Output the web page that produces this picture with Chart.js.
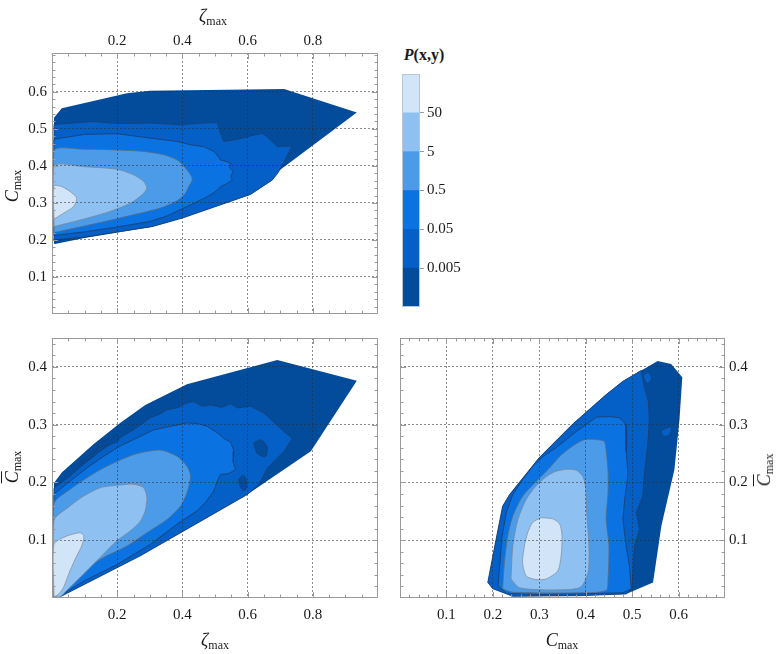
<!DOCTYPE html>
<html>
<head>
<meta charset="utf-8">
<script src="https://cdn.jsdelivr.net/npm/chart.js@4.4.1/dist/chart.umd.min.js"></script>
<style>
  body { margin: 0; background: #fff; }
  #wrap { position: relative; width: 778px; height: 654px; overflow: hidden; font-family: 'Liberation Serif', 'Times New Roman', serif; color: #1a1a1a; }
  canvas { position: absolute; }
  .lab { position: absolute; transform: translate(-50%, -50%); white-space: nowrap; font-size: 18px; line-height: 1; }
  .rot { transform: translate(-50%, -50%) rotate(-90deg); }
  .lab sub { font-size: 12px; vertical-align: -3px; }
  .it { font-style: italic; }
  .ov { text-decoration: overline; }
</style>
</head>
<body>
<div id="wrap">
  <canvas id="tl" width="390" height="320" style="left:0px;top:0px"></canvas>
  <canvas id="bl" width="390" height="334" style="left:0px;top:320px"></canvas>
  <canvas id="br" width="388" height="334" style="left:390px;top:320px"></canvas>
  <canvas id="cb" width="88" height="233" style="left:402px;top:74px"></canvas>

  <div class="lab" style="left:213px;top:17px"><span class="it">ζ</span><sub>max</sub></div>
  <div class="lab rot" style="left:13px;top:186px"><span class="it">C</span><sub>max</sub></div>
  <div class="lab rot" style="left:13px;top:467px"><span class="it ov">C</span><sub>max</sub></div>
  <div class="lab" style="left:215px;top:641px"><span class="it">ζ</span><sub>max</sub></div>
  <div class="lab" style="left:562px;top:641px"><span class="it">C</span><sub>max</sub></div>
  <div class="lab rot" style="left:765px;top:470px"><span class="it ov">C</span><sub>max</sub></div>
  <div class="lab" style="left:424px;top:55px;font-size:16px;font-weight:bold"><span class="it">P</span>(x,y)</div>
</div>
<script>
// colour levels, darkest (data hull) to lightest
const levelColors = ['#034c9c', '#045fc6', '#0a72e1', '#4b9be9', '#8fc0f2', '#d2e5f8'];
const lineColors = ['#034c9c', '#1b3d70', '#1d3c6a', '#5b6c82', '#76869a', '#8793a3'];
const colorbarLabels = ['0.005', '0.05', '0.5', '5', '50'];

// tick values
const tlXTicks = [0.2, 0.4, 0.6, 0.8];
const tlYTicks = [0.1, 0.2, 0.3, 0.4, 0.5, 0.6];
const blXTicks = [0.2, 0.4, 0.6, 0.8];
const blYTicks = [0.1, 0.2, 0.3, 0.4];
const brXTicks = [0.1, 0.2, 0.3, 0.4, 0.5, 0.6];
const brYTicks = [0.1, 0.2, 0.3, 0.4];

// top-left: zeta_max vs C_max, contour polygons [x, y]
const tlHull = [[0.006,0.19],[0.006,0.53],[0.03,0.556],[0.23,0.596],[0.30,0.603],[0.712,0.608],[0.935,0.544],[0.69,0.383],[0.676,0.362],[0.609,0.323],[0.40,0.259],[0.307,0.236],[0.1,0.205],[0.009,0.189]];
const tlB = [[0.006,0.2],[0.006,0.512],[0.13,0.52],[0.2,0.514],[0.3,0.516],[0.394,0.511],[0.45,0.515],[0.507,0.517],[0.517,0.488],[0.527,0.466],[0.568,0.472],[0.609,0.481],[0.645,0.488],[0.66,0.479],[0.691,0.452],[0.737,0.454],[0.694,0.382],[0.676,0.362],[0.609,0.323],[0.40,0.259],[0.307,0.236],[0.1,0.208]];
const tlC = [[0.006,0.212],[0.006,0.472],[0.1,0.485],[0.2,0.487],[0.302,0.475],[0.384,0.466],[0.425,0.457],[0.466,0.452],[0.497,0.439],[0.51,0.425],[0.517,0.416],[0.535,0.412],[0.548,0.407],[0.545,0.395],[0.556,0.385],[0.548,0.372],[0.553,0.362],[0.535,0.352],[0.517,0.344],[0.5,0.33],[0.476,0.317],[0.435,0.299],[0.353,0.265],[0.3,0.25],[0.2,0.235],[0.1,0.222]];
const tlD = [[0.006,0.22],[0.006,0.441],[0.096,0.445],[0.199,0.443],[0.281,0.439],[0.343,0.43],[0.384,0.416],[0.404,0.40],[0.425,0.376],[0.43,0.362],[0.419,0.344],[0.409,0.326],[0.384,0.306],[0.332,0.286],[0.25,0.268],[0.148,0.247]];
const tlE = [[0.006,0.236],[0.006,0.40],[0.096,0.398],[0.199,0.391],[0.25,0.376],[0.281,0.358],[0.291,0.34],[0.276,0.322],[0.24,0.299],[0.178,0.277],[0.096,0.256]];
const tlF = [[0.006,0.256],[0.006,0.346],[0.03,0.344],[0.055,0.331],[0.076,0.313],[0.066,0.29],[0.035,0.272]];
const tlIslands = [];

// bottom-left: zeta_max vs Cbar_max
const blHull = [[0.006,0.002],[0.006,0.199],[0.03,0.217],[0.127,0.266],[0.209,0.303],[0.286,0.334],[0.414,0.37],[0.691,0.412],[0.935,0.376],[0.794,0.254],[0.599,0.179],[0.404,0.116],[0.271,0.073],[0.025,0.002]];
const blB = [[0.006,0.19],[0.055,0.211],[0.096,0.231],[0.148,0.254],[0.199,0.274],[0.25,0.291],[0.302,0.312],[0.33,0.318],[0.353,0.326],[0.39,0.33],[0.41,0.337],[0.435,0.34],[0.46,0.332],[0.486,0.334],[0.52,0.33],[0.548,0.336],[0.57,0.329],[0.609,0.332],[0.65,0.32],[0.712,0.288],[0.737,0.276],[0.712,0.254],[0.661,0.225],[0.635,0.197],[0.599,0.179],[0.404,0.116],[0.271,0.073],[0.025,0.002],[0.006,0.002]];
const blC = [[0.006,0.002],[0.006,0.18],[0.055,0.202],[0.107,0.225],[0.158,0.245],[0.209,0.263],[0.261,0.277],[0.312,0.291],[0.363,0.297],[0.414,0.303],[0.445,0.302],[0.476,0.297],[0.507,0.286],[0.53,0.275],[0.548,0.27],[0.558,0.254],[0.556,0.235],[0.563,0.222],[0.54,0.215],[0.517,0.214],[0.505,0.2],[0.496,0.185],[0.47,0.165],[0.445,0.151],[0.384,0.128],[0.302,0.093],[0.2,0.058],[0.1,0.03],[0.03,0.006]];
const blD = [[0.006,0.002],[0.006,0.163],[0.055,0.188],[0.148,0.222],[0.25,0.248],[0.332,0.256],[0.384,0.245],[0.414,0.228],[0.425,0.211],[0.414,0.182],[0.394,0.159],[0.353,0.136],[0.291,0.113],[0.23,0.09],[0.158,0.07],[0.086,0.044],[0.035,0.016],[0.014,0.004]];
const blE = [[0.006,0.002],[0.006,0.134],[0.055,0.159],[0.096,0.176],[0.148,0.191],[0.199,0.195],[0.25,0.197],[0.281,0.191],[0.291,0.174],[0.286,0.151],[0.271,0.133],[0.24,0.116],[0.199,0.099],[0.158,0.076],[0.117,0.053],[0.076,0.03],[0.045,0.013],[0.025,0.002]];
const blF = [[0.006,0.002],[0.006,0.093],[0.045,0.107],[0.086,0.113],[0.098,0.107],[0.091,0.09],[0.076,0.073],[0.055,0.047],[0.035,0.018],[0.019,0.006]];
// small darkest patches inside the 0.005 band
const blIslands = [
  [[0.081,0.231],[0.127,0.254],[0.143,0.261],[0.122,0.245],[0.091,0.232]],
  [[0.138,0.266],[0.199,0.28],[0.204,0.272],[0.148,0.261]],
  [[0.572,0.205],[0.588,0.212],[0.598,0.2],[0.592,0.186],[0.58,0.19]],
  [[0.618,0.268],[0.64,0.274],[0.66,0.262],[0.655,0.245],[0.63,0.25]]
];

// bottom-right: C_max vs Cbar_max
const brHull = [[0.2,0.016],[0.243,0.003],[0.387,0.004],[0.487,0.007],[0.545,0.027],[0.563,0.125],[0.591,0.222],[0.602,0.309],[0.608,0.382],[0.584,0.405],[0.555,0.41],[0.48,0.375],[0.444,0.352],[0.372,0.301],[0.30,0.243],[0.236,0.179],[0.221,0.159],[0.207,0.102],[0.189,0.027]];
const brB = [[0.2,0.016],[0.243,0.003],[0.387,0.004],[0.487,0.007],[0.50,0.016],[0.502,0.056],[0.505,0.09],[0.516,0.119],[0.509,0.148],[0.523,0.176],[0.525,0.205],[0.53,0.24],[0.534,0.27],[0.537,0.306],[0.535,0.34],[0.525,0.37],[0.52,0.394],[0.48,0.375],[0.444,0.352],[0.372,0.301],[0.30,0.243],[0.236,0.179],[0.221,0.159],[0.207,0.102],[0.189,0.027]];
const brC = [[0.211,0.021],[0.216,0.067],[0.22,0.107],[0.229,0.148],[0.243,0.179],[0.264,0.205],[0.286,0.228],[0.308,0.245],[0.336,0.26],[0.358,0.274],[0.379,0.288],[0.401,0.30],[0.423,0.313],[0.451,0.314],[0.473,0.312],[0.487,0.30],[0.487,0.254],[0.491,0.214],[0.484,0.171],[0.48,0.136],[0.487,0.09],[0.494,0.056],[0.498,0.016],[0.48,0.009],[0.3,0.006],[0.23,0.008]];
const brD = [[0.221,0.016],[0.225,0.062],[0.232,0.107],[0.243,0.142],[0.264,0.176],[0.29,0.199],[0.322,0.225],[0.344,0.245],[0.372,0.263],[0.397,0.274],[0.423,0.274],[0.44,0.271],[0.444,0.254],[0.448,0.219],[0.448,0.182],[0.444,0.136],[0.45,0.09],[0.448,0.033],[0.444,0.013],[0.387,0.009],[0.243,0.01]];
const brE = [[0.239,0.033],[0.243,0.09],[0.254,0.136],[0.272,0.171],[0.293,0.194],[0.315,0.21],[0.335,0.219],[0.36,0.223],[0.38,0.221],[0.394,0.21],[0.4,0.19],[0.402,0.148],[0.407,0.09],[0.405,0.044],[0.387,0.018],[0.315,0.014],[0.257,0.018]];
const brF = [[0.304,0.139],[0.329,0.137],[0.344,0.128],[0.349,0.107],[0.347,0.073],[0.34,0.047],[0.315,0.033],[0.293,0.032],[0.272,0.038],[0.264,0.062],[0.268,0.09],[0.275,0.113],[0.286,0.131]];
// patches of the 0.005 band inside the darkest region
const brIslands = [
  [[0.523,0.385],[0.535,0.39],[0.542,0.38],[0.532,0.372]],
  [[0.563,0.29],[0.584,0.296],[0.58,0.282],[0.566,0.28]]
];

const tickFont = { family: "'Liberation Serif', serif", size: 15 };
const tickColor = '#1a1a1a';
const gridColor = 'rgba(45,45,45,0.55)';

// frame + inward Mathematica style ticks on all four sides
const framePlugin = {
  id: 'frame',
  afterDraw(chart, args, o) {
    if (!o || !o.xStep) return;
    const { ctx, chartArea: a, scales } = chart;
    const xs = scales.x, ys = scales.y;
    ctx.save();
    ctx.strokeStyle = '#9a9a9a';
    ctx.lineWidth = 1;
    ctx.strokeRect(a.left + 0.5, a.top + 0.5, a.width - 1, a.height - 1);
    ctx.beginPath();
    for (let i = 1; i * o.xStep < xs.max - 1e-9; i++) {
      const v = i * o.xStep;
      const len = o.xMajor.some(m => Math.abs(m - v) < 1e-6) ? 6 : 3.5;
      const px = Math.round(xs.getPixelForValue(v)) + 0.5;
      ctx.moveTo(px, a.top); ctx.lineTo(px, a.top + len);
      ctx.moveTo(px, a.bottom); ctx.lineTo(px, a.bottom - len);
    }
    for (let i = 1; i * o.yStep < ys.max - 1e-9; i++) {
      const v = i * o.yStep;
      const len = o.yMajor.some(m => Math.abs(m - v) < 1e-6) ? 6 : 3.5;
      const py = Math.round(ys.getPixelForValue(v)) + 0.5;
      ctx.moveTo(a.left, py); ctx.lineTo(a.left + len, py);
      ctx.moveTo(a.right, py); ctx.lineTo(a.right - len, py);
    }
    ctx.stroke();
    ctx.restore();
  }
};

function polyData(pts) {
  const d = pts.map(p => ({ x: p[0], y: p[1] }));
  d.push(d[0]);
  return d;
}

function levelSets(levels, islands, islandLevel) {
  const sets = levels.map((pts, i) => ({
    data: polyData(pts),
    showLine: true,
    fill: 'shape',
    backgroundColor: levelColors[i],
    borderColor: lineColors[i],
    borderWidth: i === 0 ? 0 : 0.8,
    pointRadius: 0,
    tension: i >= 3 ? 0.25 : 0,
    order: levels.length - i
  }));
  // islands sit just above the band they interrupt
  islands.forEach(pts => sets.push({
    data: polyData(pts),
    showLine: true,
    fill: 'shape',
    backgroundColor: levelColors[islandLevel],
    borderColor: lineColors[1],
    borderWidth: 0.7,
    pointRadius: 0,
    tension: 0.3,
    order: levels.length - 1.5
  }));
  return sets;
}

function fmt(v) {
  return String(Math.round(v * 100) / 100);
}

function axis(pos, min, max, ticks, size, pad) {
  const horiz = pos === 'top' || pos === 'bottom';
  return {
    type: 'linear',
    position: pos,
    min: min,
    max: max,
    bounds: 'data',
    afterBuildTicks: s => { s.ticks = ticks.map(v => ({ value: v })); },
    afterFit: s => {
      if (horiz) s.height = size; else s.width = size;
      s.paddingTop = 0; s.paddingBottom = 0; s.paddingLeft = 0; s.paddingRight = 0;
    },
    ticks: { callback: v => fmt(v), font: tickFont, color: tickColor, padding: pad, maxRotation: 0, autoSkip: false },
    grid: { color: gridColor, lineWidth: 1, drawTicks: false, z: 1 },
    border: { display: false, dash: [2, 2] }
  };
}

function makePanel(id, levels, islands, islandLevel, xAxis, yAxis, padding, frameOpts) {
  return new Chart(document.getElementById(id), {
    type: 'scatter',
    data: { datasets: levelSets(levels, islands, islandLevel) },
    options: {
      responsive: false,
      animation: false,
      layout: { padding: padding },
      plugins: { legend: { display: false }, tooltip: { enabled: false }, frame: frameOpts },
      scales: { x: xAxis, y: yAxis }
    },
    plugins: [framePlugin]
  });
}

makePanel('tl', [tlHull, tlB, tlC, tlD, tlE, tlF], tlIslands, 0,
  axis('top', 0, 1, tlXTicks, 53, 3), axis('left', 0, 0.705, tlYTicks, 52, 5),
  { left: 0, top: 0, right: 12, bottom: 6 },
  { xStep: 0.05, yStep: 0.02, xMajor: tlXTicks, yMajor: tlYTicks });

makePanel('bl', [blHull, blB, blC, blD, blE, blF], blIslands, 0,
  axis('bottom', 0, 1, blXTicks, 56, 8), axis('left', 0, 0.45, blYTicks, 52, 5),
  { left: 0, top: 18, right: 12, bottom: 0 },
  { xStep: 0.05, yStep: 0.02, xMajor: blXTicks, yMajor: blYTicks });

makePanel('br', [brHull, brB, brC, brD, brE, brF], brIslands, 1,
  axis('bottom', 0, 0.7, brXTicks, 56, 8), axis('right', 0, 0.45, brYTicks, 53, 4),
  { left: 10, top: 18, right: 0, bottom: 0 },
  { xStep: 0.02, yStep: 0.02, xMajor: brXTicks, yMajor: brYTicks });

// colour bar: six stacked unit blocks
const outlinePlugin = {
  id: 'outline',
  afterDatasetsDraw(chart) {
    const { ctx, chartArea: a } = chart;
    ctx.save();
    ctx.strokeStyle = '#b9c6d4';
    ctx.lineWidth = 1;
    ctx.strokeRect(a.left + 0.5, a.top + 0.5, a.width - 1, a.height - 1);
    ctx.restore();
  }
};

new Chart(document.getElementById('cb'), {
  type: 'bar',
  data: {
    labels: [''],
    datasets: levelColors.map(c => ({ data: [1], backgroundColor: c, borderWidth: 0, barPercentage: 1, categoryPercentage: 1 }))
  },
  options: {
    responsive: false,
    animation: false,
    layout: { padding: 0 },
    plugins: { legend: { display: false }, tooltip: { enabled: false } },
    scales: {
      x: { display: false, stacked: true },
      y: {
        position: 'right',
        stacked: true,
        min: 0,
        max: 6,
        afterBuildTicks: s => { s.ticks = [1, 2, 3, 4, 5].map(v => ({ value: v })); },
        afterFit: s => { s.width = 70; s.paddingTop = 0; s.paddingBottom = 0; },
        ticks: { callback: (v, i) => colorbarLabels[i], font: tickFont, color: tickColor, padding: 3 },
        grid: { drawOnChartArea: false, drawTicks: true, tickLength: 4, tickColor: '#9a9a9a' },
        border: { display: false }
      }
    }
  },
  plugins: [outlinePlugin]
});
</script>
</body>
</html>
